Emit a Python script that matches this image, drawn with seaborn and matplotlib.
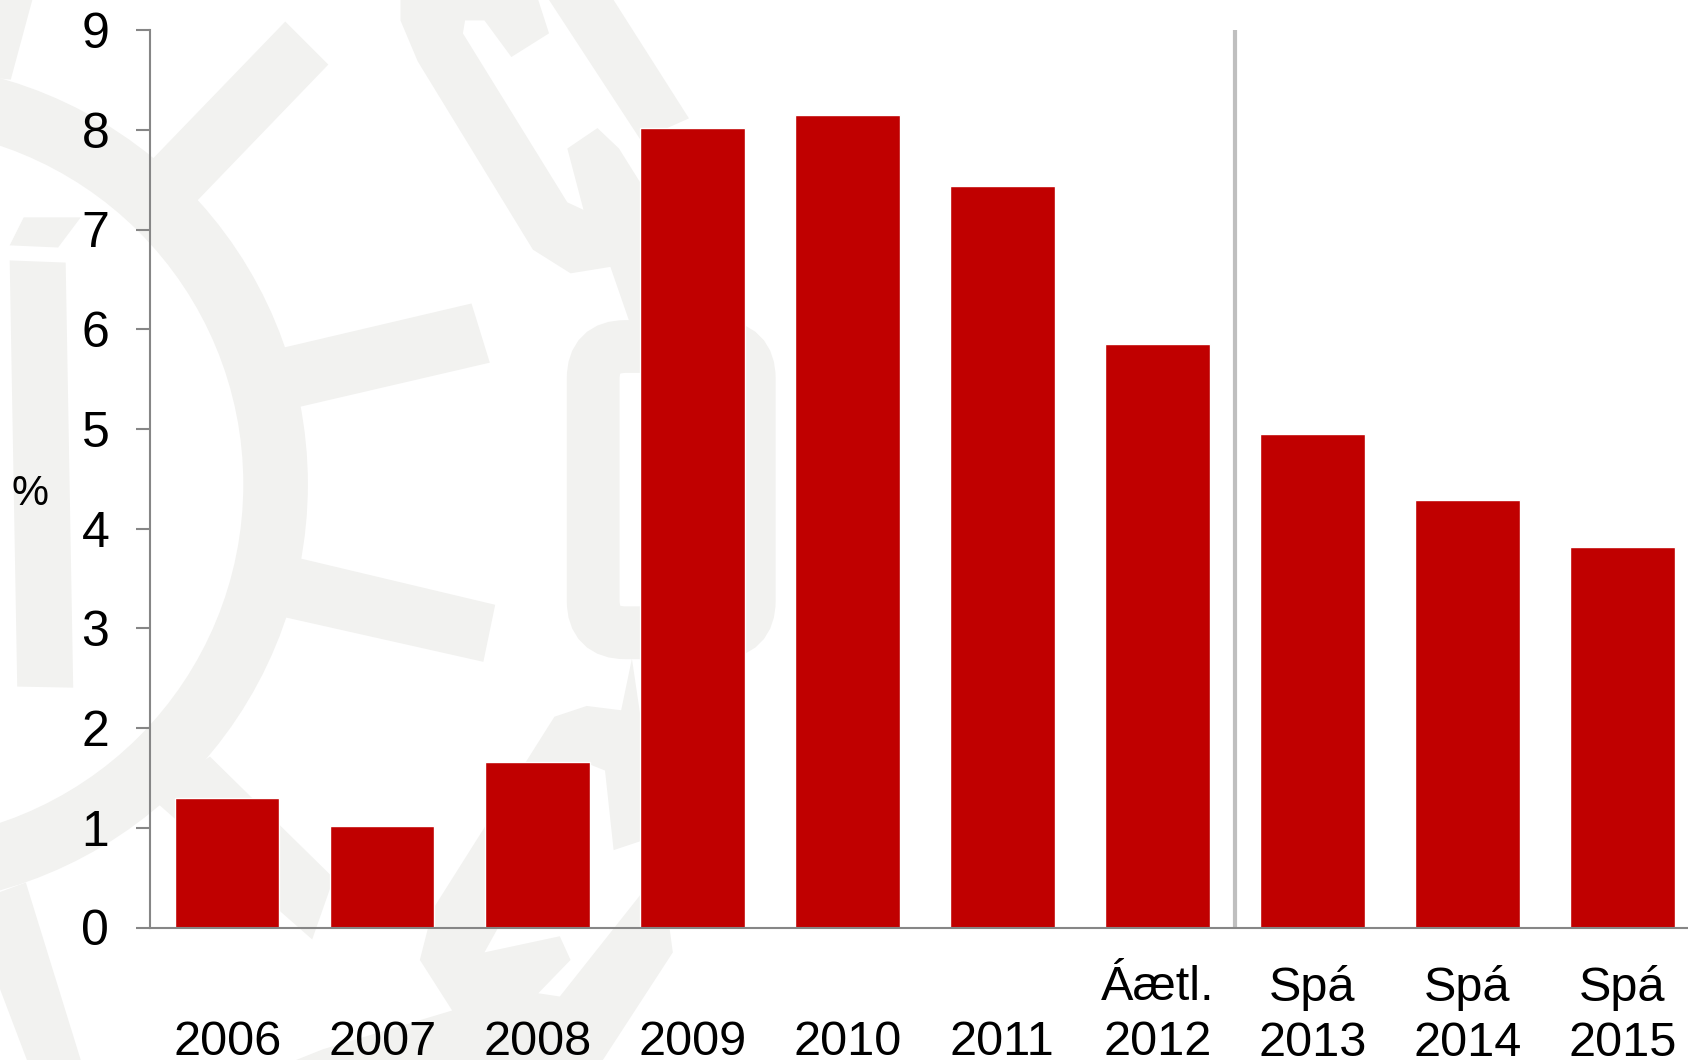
import matplotlib
matplotlib.use("Agg")
import matplotlib.pyplot as plt
import seaborn as sns
from matplotlib.patches import Polygon, Wedge, FancyBboxPatch
from matplotlib.transforms import ScaledTranslation

categories = ["\n2006", "\n2007", "\n2008", "\n2009", "\n2010", "\n2011",
              "Áætl.\n2012", "Spá\n2013", "Spá\n2014", "Spá\n2015"]
values = [1.30, 1.02, 1.66, 8.02, 8.15, 7.44, 5.85, 4.95, 4.29, 3.82]
y_ticks = list(range(10))

RED = "#C00000"
AXIS = "#868686"
DIVIDER = "#BFBFBF"
WM = "#F2F2F0"
FONT = "Liberation Sans"

sns.set_theme(style="white")
plt.rcParams["font.family"] = [FONT, "DejaVu Sans"]
plt.rcParams["ytick.alignment"] = "center"

fig = plt.figure(figsize=(16.88, 10.6), dpi=100, facecolor="white")

# Pale watermark behind the chart
bg = fig.add_axes([0, 0, 1, 1], zorder=0)
bg.set_xlim(0, 1568)
bg.set_ylim(985, 0)
bg.axis("off")
bg.add_patch(Wedge((-106, 450), 392, -90, 90, width=60, fc=WM, ec="none"))
gear_and_links = [
    [(125, 165), (265, 20), (305, 60), (175, 195)],
    [(255, 325), (438, 282), (455, 337), (270, 380)],
    [(275, 518), (460, 562), (449, 615), (262, 573)],
    [(195, 703), (310, 816), (290, 873), (140, 741)],
    [(24, 820), (75, 985), (25, 985), (-30, 840)],
    [(-30, 0), (30, 0), (10, 74), (-30, 70)],
    [(9, 242), (61, 244), (68, 639), (16, 638)],
    [(22, 202), (75, 202), (54, 230), (9, 228)],
    [(372, 0), (372, 19), (388, 57), (495, 232), (530, 254), (567, 248), (585, 300),
     (620, 300), (620, 170), (595, 170), (575, 138), (555, 119), (527, 138), (542, 195),
     (527, 188), (430, 31), (432, 19), (450, 19), (475, 53), (510, 31), (500, 0)],
    [(510, 0), (595, 130), (640, 110), (570, 0)],
    [(587, 612), (577, 660), (545, 656), (515, 666), (402, 845), (390, 892), (420, 939),
     (300, 975), (275, 985), (560, 985), (625, 885), (600, 700)],
]
for pts in gear_and_links:
    bg.add_patch(Polygon(pts, closed=True, fc=WM, ec="none"))
bg.add_patch(Polygon([(520, 870), (530, 892), (500, 923), (520, 926), (600, 825), (600, 780),
                      (570, 790), (562, 716), (547, 710), (450, 885)],
                     closed=True, fc="white", ec="none"))
bg.add_patch(FancyBboxPatch((551 + 30, 322 + 30), 145 - 60, 266 - 60,
                            boxstyle="round,pad=30,rounding_size=30",
                            fc="none", ec=WM, lw=38))

# Main chart
ax = fig.add_axes([139 / 1568, (985 - 862) / 985, 1440 / 1568, 834 / 985], zorder=1)
ax.patch.set_alpha(0)
sns.barplot(x=categories, y=values, color=RED, saturation=1, width=0.675, ax=ax)
ax.set_xlim(-0.5, len(categories) - 0.5)
ax.set_ylim(0, 9)
ax.set_yticks(y_ticks)
ax.axvline(6.5, color=DIVIDER, lw=3, zorder=3)

for side in ("top", "right"):
    ax.spines[side].set_visible(False)
for side in ("left", "bottom"):
    ax.spines[side].set_color(AXIS)
    ax.spines[side].set_linewidth(1.5)
    ax.spines[side].set_zorder(4)

ax.tick_params(axis="y", left=True, length=10, width=1.5, color=AXIS,
               labelsize=36, labelcolor="black", pad=19)
ax.tick_params(axis="x", bottom=False, labelsize=35, labelcolor="black", pad=21)
for lbl in ax.get_xticklabels():
    lbl.set_linespacing(1.29)
for lbl in ax.get_xticklabels() + ax.get_yticklabels():
    lbl.set_fontfamily([FONT, "DejaVu Sans"])
shift = ScaledTranslation(0, -3.5 / 72, fig.dpi_scale_trans)
for lbl in ax.get_yticklabels():
    lbl.set_transform(lbl.get_transform() + shift)

fig.text(28 / 1568, 1 - 459 / 985, "%", fontsize=30, color="black",
         ha="center", va="center", zorder=5)

fig.savefig("out.png", dpi=100, facecolor="white")
